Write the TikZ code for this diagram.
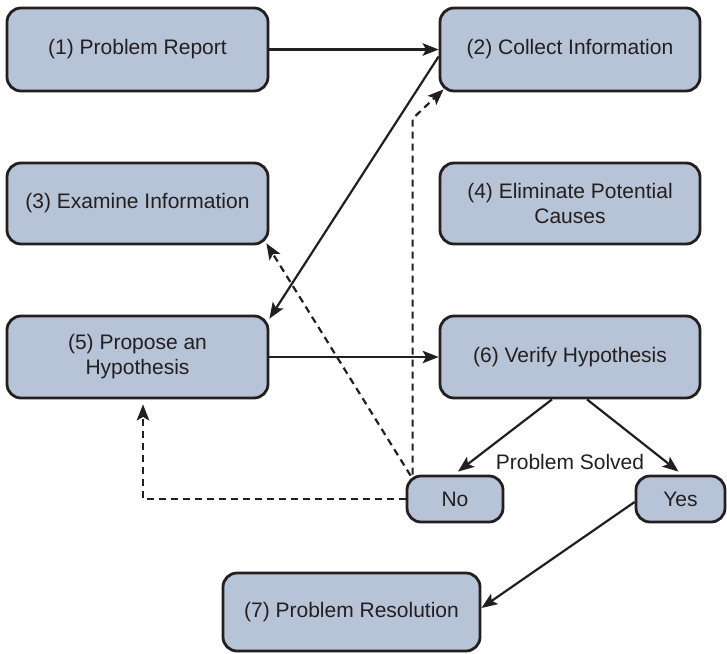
\documentclass[tikz,border=0pt]{standalone}
\usepackage{fontspec}
\setmainfont{Liberation Sans}
\usetikzlibrary{arrows.meta,calc}
\definecolor{boxfill}{RGB}{183,195,214}
\definecolor{ink}{RGB}{35,31,32}
\begin{document}
\begin{tikzpicture}[x=1pt,y=-1pt,
  box/.style={draw=ink, line width=2.8pt, fill=boxfill, rounded corners=14pt, align=center,
    font=\fontsize{21}{25}\selectfont, text=ink, inner sep=0pt},
  conn/.style={draw=ink, line width=2.2pt, -{Stealth[length=16pt,width=12.5pt,inset=3.5pt]}},
  dconn/.style={conn, dash pattern=on 7pt off 5pt},
  lbl/.style={font=\fontsize{21}{25}\selectfont, text=ink, inner sep=0pt}]
\useasboundingbox (0,0) rectangle (727,653);
\node[box, minimum width=261pt, minimum height=83pt] (n1) at (137.5,49.5) {(1) Problem Report};
\node[box, minimum width=260pt, minimum height=83pt] (n2) at (570,49.5) {(2) Collect Information};
\node[box, minimum width=261pt, minimum height=81pt] (n3) at (137.5,203.5) {(3) Examine Information};
\node[box, minimum width=260pt, minimum height=81pt] (n4) at (570,203.5) {(4) Eliminate Potential\\Causes};
\node[box, minimum width=261pt, minimum height=82pt] (n5) at (137.5,357) {(5) Propose an\\Hypothesis};
\node[box, minimum width=260pt, minimum height=82pt] (n6) at (570,357) {(6) Verify Hypothesis};
\node[box, minimum width=96pt, minimum height=46pt] (no) at (455,499) {No};
\node[box, minimum width=89pt, minimum height=46pt] (yes) at (680.5,499) {Yes};
\node[box, minimum width=257pt, minimum height=78pt] (n7) at (351.5,612) {(7) Problem Resolution};
\node[lbl] (ps) at (570,462) {Problem Solved};

\draw[conn] (n1.east) -- (n2.west);
\draw[conn] ([yshift=-7pt]n2.west) -- ([yshift=-4pt]n5.north east);
\draw[conn] (n5.east) -- (n6.west);
\draw[conn] ([xshift=-18pt]n6.south) -- ([xshift=3pt,yshift=3pt]no.north);
\draw[conn] ([xshift=17pt]n6.south) -- ([xshift=-2pt,yshift=3pt]yes.north);
\draw[conn] ([yshift=-3pt]yes.west) -- ([yshift=4pt]n7.east);
\draw[dconn] (no.west) -| ([xshift=5.5pt,yshift=-5pt]n5.south);
\draw[dconn] ([xshift=5pt,yshift=-1pt]no.north west) -- ([xshift=-3pt,yshift=2pt]n3.south east);
\draw[dconn] ([xshift=7pt]no.north west) -- ++(0,-356) -- ([xshift=5pt,yshift=3pt]n2.south west);
\end{tikzpicture}
\end{document}
